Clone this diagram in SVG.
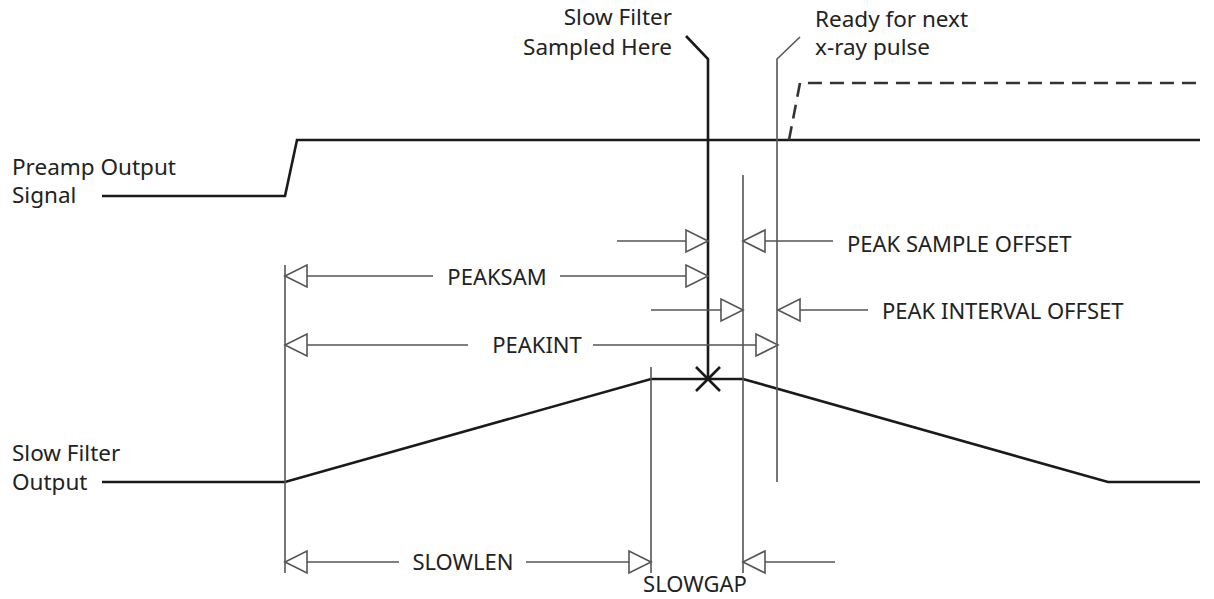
<svg xmlns="http://www.w3.org/2000/svg" width="1214" height="599" viewBox="0 0 1214 599">
<style>
.lbl{font-family:"Noto Sans","Liberation Sans",sans-serif;font-size:22.5px;fill:#222}
.cap{font-family:"Noto Sans","Liberation Sans",sans-serif;font-size:22px;fill:#222}
.sig{fill:none;stroke:#1a1a1a;stroke-width:2.6;stroke-linejoin:miter}
.dim{fill:none;stroke:#555;stroke-width:1.6}
.arr{fill:none;stroke:#555;stroke-width:1.6;marker-end:url(#tri)}
.dash{fill:none;stroke:#333;stroke-width:2.6;stroke-dasharray:14 8}
</style>
<defs>
<marker id="tri" markerUnits="userSpaceOnUse" viewBox="-24 -13 26 26" refX="0" refY="0" markerWidth="26" markerHeight="26" orient="auto">
<path d="M0,0 L-22,-11 L-22,11 Z" fill="#fff" stroke="#555" stroke-width="1.6" stroke-linejoin="miter"/>
</marker>
</defs>
<rect width="1214" height="599" fill="#fff"/>
<g id="preamp-signal">
<polyline class="sig" points="102,196 285,196 297,140 1200,140"/>
<text class="lbl" x="12" y="175">Preamp Output</text>
<text class="lbl" x="12" y="203">Signal</text>
</g>
<g id="next-pulse">
<polyline class="dash" points="789,140 800,83 1200,83"/>
</g>
<g id="slow-filter-output">
<polyline class="sig" points="102,482 285,482 651,379 743,379 1108,482 1200,482"/>
<text class="lbl" x="12" y="461">Slow Filter</text>
<text class="lbl" x="12" y="490">Output</text>
</g>
<g id="sample-point">
<polyline class="sig" points="686,36 708,59 708,379"/>
<path class="sig" d="M696,367 L720,391 M720,367 L696,391"/>
<text class="lbl" x="672" y="25" text-anchor="end">Slow Filter</text>
<text class="lbl" x="672" y="55" text-anchor="end">Sampled Here</text>
</g>
<g id="ready-point">
<polyline class="dim" points="800,37 777,59 777,482"/>
<text class="lbl" x="815" y="27">Ready for next</text>
<text class="lbl" x="815" y="55">x-ray pulse</text>
</g>
<g id="connectors">
<line class="dim" x1="285" y1="265" x2="285" y2="573"/>
<line class="dim" x1="651" y1="367" x2="651" y2="573"/>
<line class="dim" x1="743" y1="175" x2="743" y2="573"/>
<line class="arr" x1="617" y1="241" x2="708" y2="241"/>
<line class="arr" x1="833" y1="241" x2="743" y2="241"/>
<line class="arr" x1="433" y1="276" x2="285" y2="276"/>
<line class="arr" x1="560" y1="276" x2="708" y2="276"/>
<line class="arr" x1="651" y1="310" x2="743" y2="310"/>
<line class="arr" x1="868" y1="310" x2="778" y2="310"/>
<line class="arr" x1="468" y1="345" x2="285" y2="345"/>
<line class="arr" x1="593" y1="345" x2="778" y2="345"/>
<line class="arr" x1="399" y1="562" x2="285" y2="562"/>
<line class="arr" x1="526" y1="562" x2="651" y2="562"/>
<line class="arr" x1="835" y1="562" x2="743" y2="562"/>
</g>
<g id="labels">
<text class="cap" x="847" y="252">PEAK SAMPLE OFFSET</text>
<text class="cap" x="882" y="319">PEAK INTERVAL OFFSET</text>
<text class="cap" x="497" y="285" text-anchor="middle">PEAKSAM</text>
<text class="cap" x="537" y="353" text-anchor="middle">PEAKINT</text>
<text class="cap" x="463" y="570" text-anchor="middle">SLOWLEN</text>
<text class="cap" x="695" y="592" text-anchor="middle">SLOWGAP</text>
</g>
</svg>
